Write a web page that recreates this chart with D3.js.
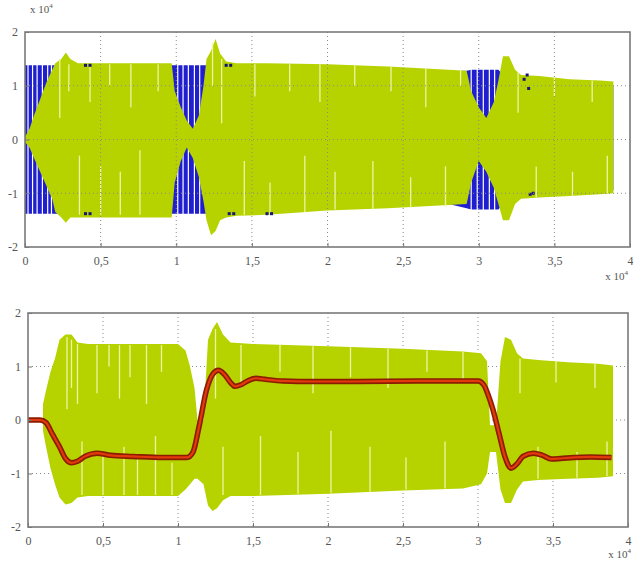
<!DOCTYPE html>
<html>
<head>
<meta charset="utf-8">
<script src="https://cdn.jsdelivr.net/npm/d3@7"></script>
<style>
  body { margin: 0; background: #fff; }
  svg text { font-family: "Liberation Serif", "DejaVu Serif", serif; fill: #555; }
</style>
</head>
<body>
<div id="chart"></div>
<script>
"use strict";

// ---- shared axis data ----
const X_TICKS = [0, 0.5, 1, 1.5, 2, 2.5, 3, 3.5, 4];
const X_TICK_LABELS = ["0", "0,5", "1", "1,5", "2", "2,5", "3", "3,5", "4"];
const Y_TICKS = [-2, -1, 0, 1, 2];
const Y_TICK_LABELS = ["-2", "-1", "0", "1", "2"];

// ---- top panel: envelopes of the two oscillating signals ----
const topX      = [0, 0.03, 0.06, 0.1, 0.14, 0.18, 0.2, 0.24, 0.27, 0.3, 0.35, 0.45, 0.6, 0.8, 0.97, 0.99, 1.03, 1.07, 1.11, 1.15, 1.18, 1.2, 1.23, 1.26, 1.29, 1.33, 1.4, 1.6, 2.0, 2.4, 2.8, 2.92, 2.95, 3.0, 3.05, 3.1, 3.13, 3.16, 3.2, 3.24, 3.28, 3.4, 3.6, 3.8, 3.89];
const topGreenHi = [0.05, 0.2, 0.45, 0.75, 1.05, 1.3, 1.42, 1.5, 1.62, 1.5, 1.42, 1.42, 1.42, 1.42, 1.42, 0.9, 0.6, 0.35, 0.2, 0.45, 1.0, 1.5, 1.65, 1.87, 1.6, 1.45, 1.42, 1.42, 1.4, 1.36, 1.3, 1.28, 0.9, 0.6, 0.4, 0.7, 1.1, 1.55, 1.55, 1.3, 1.2, 1.18, 1.12, 1.1, 1.08];
const topGreenLo = [-0.05, -0.15, -0.35, -0.6, -0.85, -1.1, -1.35, -1.45, -1.55, -1.45, -1.45, -1.45, -1.45, -1.45, -1.45, -0.8, -0.4, -0.15, -0.35, -0.7, -1.15, -1.5, -1.78, -1.7, -1.5, -1.45, -1.42, -1.4, -1.32, -1.28, -1.22, -1.2, -0.8, -0.4, -0.6, -0.9, -1.2, -1.5, -1.5, -1.2, -1.1, -1.08, -1.05, -1.02, -1.0];
const topBlueHi  = [1.38, 1.38, 1.38, 1.38, 1.38, 1.38, 1.38, 1.38, 1.38, 1.38, 1.38, 1.38, 1.38, 1.38, 1.38, 1.38, 1.38, 1.38, 1.38, 1.38, 1.38, 1.38, 1.38, 1.38, 1.38, 1.38, 1.38, 1.36, 1.33, 1.3, 1.27, 1.28, 1.3, 1.3, 1.3, 1.3, 1.3, 1.2, 1.1, 1.08, 1.08, 1.05, 1.03, 1.0, 1.0];
const topBlueLo  = [-1.38, -1.38, -1.38, -1.38, -1.38, -1.38, -1.38, -1.38, -1.38, -1.38, -1.38, -1.38, -1.38, -1.38, -1.38, -1.38, -1.38, -1.38, -1.38, -1.38, -1.38, -1.38, -1.38, -1.38, -1.38, -1.38, -1.38, -1.36, -1.3, -1.25, -1.2, -1.28, -1.3, -1.3, -1.3, -1.3, -1.3, -1.2, -1.05, -1.0, -1.0, -1.0, -0.98, -0.96, -0.95];

// white gaps between blue strokes, and dark blue spots peeking out
const topBlueGapX = [0.02, 0.05, 0.08, 0.115, 0.15, 0.175, 1.01, 1.045, 1.08, 1.12, 1.155, 2.95, 2.99, 3.03, 3.07, 3.105];
const topBlueDotX = [0.4, 0.43, 0.4, 0.43, 1.33, 1.36, 1.35, 1.38, 1.6, 1.63, 3.3, 3.32, 3.33, 3.34, 3.36];
const topBlueDotY = [1.38, 1.38, -1.38, -1.38, 1.38, 1.38, -1.38, -1.38, -1.38, -1.38, 1.12, 1.2, 0.95, -1.02, -1.0];

// pale streaks inside the green band
const topStreakX  = [0.23, 0.29, 0.36, 0.43, 0.5, 0.56, 0.63, 0.7, 0.76, 0.88, 1.24, 1.3, 1.45, 1.52, 1.62, 1.75, 1.85, 1.95, 2.05, 2.18, 2.3, 2.42, 2.55, 2.65, 2.78, 2.88, 3.26, 3.38, 3.5, 3.62, 3.75, 3.85];
const topStreakY1 = [1.5, 1.4, -0.3, 1.4, -0.5, 1.4, -0.6, 1.4, -0.2, 1.4, 1.8, 1.5, -0.4, 1.4, -0.8, 1.4, -0.3, 1.4, -0.6, 1.38, -0.4, 1.36, -0.7, 1.33, -0.5, 1.3, 1.25, -0.5, 1.15, -0.6, 1.1, -0.3];
const topStreakY2 = [0.4, 0.9, -1.4, 0.7, -1.4, 1.0, -1.4, 0.6, -1.4, 0.9, 1.0, 0.3, -1.4, 0.8, -1.4, 0.9, -1.35, 0.7, -1.3, 1.0, -1.3, 0.9, -1.28, 0.6, -1.25, 1.0, 0.5, -1.08, 0.8, -1.05, 0.7, -1.0];

// ---- bottom panel: one oscillating signal plus its smoothed value ----
const botX  = [0.1, 0.12, 0.15, 0.18, 0.21, 0.25, 0.29, 0.33, 0.4, 0.6, 0.8, 1.0, 1.05, 1.08, 1.11, 1.13, 1.17, 1.2, 1.23, 1.26, 1.3, 1.35, 1.5, 2.0, 2.5, 2.9, 3.02, 3.06, 3.08, 3.12, 3.15, 3.18, 3.22, 3.26, 3.3, 3.4, 3.6, 3.8, 3.9];
const botHi = [0.3, 0.55, 0.9, 1.15, 1.5, 1.6, 1.6, 1.45, 1.42, 1.42, 1.42, 1.42, 1.3, 1.0, 0.6, 0.0, 0.0, 1.5, 1.7, 1.83, 1.6, 1.45, 1.42, 1.38, 1.33, 1.28, 1.25, 1.1, -0.1, -0.1, 1.1, 1.55, 1.5, 1.25, 1.15, 1.12, 1.08, 1.05, 1.02];
const botLo = [-0.2, -0.5, -0.9, -1.2, -1.45, -1.58, -1.55, -1.45, -1.42, -1.42, -1.42, -1.42, -1.3, -1.2, -1.1, -1.1, -1.2, -1.6, -1.7, -1.65, -1.5, -1.42, -1.42, -1.38, -1.32, -1.28, -1.2, -1.0, -0.6, -0.6, -1.3, -1.55, -1.55, -1.3, -1.15, -1.12, -1.1, -1.08, -1.05];

const botStreakX  = [0.26, 0.29, 0.33, 0.36, 0.46, 0.5, 0.54, 0.61, 0.64, 0.68, 0.73, 0.79, 0.85, 0.89, 0.96, 1.25, 1.3, 1.42, 1.55, 1.68, 1.8, 1.9, 2.02, 2.15, 2.28, 2.4, 2.52, 2.66, 2.78, 2.9, 3.28, 3.4, 3.52, 3.66, 3.78, 3.86];
const botStreakY1 = [1.55, 1.5, 1.42, -0.4, 1.4, -0.6, 1.4, 1.4, -0.5, 1.4, -0.7, 1.4, -0.3, 1.4, -0.8, 1.7, -0.5, 1.4, -0.3, 1.4, -0.6, 1.38, -0.2, 1.36, -0.5, 1.33, -0.7, 1.3, -0.4, 1.28, 1.15, -0.5, 1.1, -0.6, 1.05, -0.4];
const botStreakY2 = [0.2, 0.6, 0.3, -1.4, 0.5, -1.4, 1.0, 0.4, -1.4, 0.8, -1.4, 0.3, -1.4, 0.9, -1.4, 0.4, -1.4, 0.6, -1.4, 0.9, -1.38, 0.5, -1.36, 0.8, -1.34, 0.6, -1.3, 0.9, -1.28, 0.7, 0.5, -1.1, 0.7, -1.08, 0.6, -1.05];

const redX = [0, 0.08, 0.12, 0.16, 0.21, 0.25, 0.29, 0.33, 0.38, 0.46, 0.55, 0.7, 0.9, 1.06, 1.1, 1.14, 1.19, 1.23, 1.27, 1.31, 1.35, 1.38, 1.42, 1.47, 1.52, 1.58, 1.7, 1.9, 2.2, 2.6, 3.0, 3.04, 3.07, 3.1, 3.14, 3.18, 3.22, 3.26, 3.3, 3.37, 3.43, 3.49, 3.55, 3.64, 3.75, 3.89];
const redY = [0.0, 0.0, -0.05, -0.25, -0.5, -0.72, -0.8, -0.77, -0.68, -0.62, -0.66, -0.68, -0.7, -0.7, -0.6, -0.13, 0.56, 0.85, 0.93, 0.85, 0.7, 0.63, 0.66, 0.74, 0.78, 0.76, 0.73, 0.72, 0.72, 0.73, 0.73, 0.65, 0.45, 0.19, -0.25, -0.69, -0.9, -0.82, -0.68, -0.62, -0.66, -0.73, -0.72, -0.7, -0.69, -0.7];

const GREEN = "#b6d300";
const BLUE = "#1f1fcf";
const STREAK = "#eef4a2";

function zip(xs, ...cols) {
    return xs.map((x, i) => [x, ...cols.map(c => c[i])]);
}

/*
 * Panel: box, grid, ticks and labels
 */
function Panel(svg, box, id) {
    this.x = d3.scaleLinear().domain([0, 4]).range([box.left, box.right]);
    this.y = d3.scaleLinear().domain([-2, 2]).range([box.bottom, box.top]);
    this.box = box;
    this.g = svg.append("g");
    svg.append("clipPath").attr("id", id + "-clip")
      .append("rect")
        .attr("x", box.left).attr("y", box.top)
        .attr("width", box.right - box.left).attr("height", box.bottom - box.top);
    this.marks = this.g.append("g").attr("clip-path", `url(#${id}-clip)`);
}

Panel.prototype.grid = function() {
    const g = this.marks.append("g")
        .attr("stroke", "#8a8a8a")
        .attr("stroke-width", 1)
        .attr("stroke-dasharray", "1,3");
    g.selectAll(".gx").data(X_TICKS.slice(1, -1)).join("line")
        .attr("x1", d => this.x(d)).attr("x2", d => this.x(d))
        .attr("y1", this.box.top).attr("y2", this.box.bottom);
    g.selectAll(".gy").data(Y_TICKS.slice(1, -1)).join("line")
        .attr("x1", this.box.left).attr("x2", this.box.right)
        .attr("y1", d => this.y(d)).attr("y2", d => this.y(d));
}

Panel.prototype.frame = function() {
    const xAxis = d3.axisBottom(this.x).tickValues(X_TICKS)
        .tickFormat((d, i) => X_TICK_LABELS[i]).tickSizeInner(-4).tickSizeOuter(0).tickPadding(9);
    const yAxis = d3.axisLeft(this.y).tickValues(Y_TICKS)
        .tickFormat((d, i) => Y_TICK_LABELS[i]).tickSizeInner(-4).tickSizeOuter(0).tickPadding(7);

    const gx = this.g.append("g")
        .attr("transform", `translate(0,${this.box.bottom})`)
        .call(xAxis);
    const gy = this.g.append("g")
        .attr("transform", `translate(${this.box.left},0)`)
        .call(yAxis);
    [gx, gy].forEach(a => {
        a.select(".domain").remove();
        a.selectAll("line").attr("stroke", "#777");
        a.selectAll("text").attr("font-size", 12).attr("fill", "#555")
            .attr("font-family", "Liberation Serif, serif");
    });

    this.g.append("rect")
        .attr("x", this.box.left).attr("y", this.box.top)
        .attr("width", this.box.right - this.box.left)
        .attr("height", this.box.bottom - this.box.top)
        .attr("fill", "none").attr("stroke", "#7a7a7a").attr("stroke-width", 1.6);
}

Panel.prototype.band = function(xs, hi, lo, color) {
    const area = d3.area()
        .x(d => this.x(d[0]))
        .y0(d => this.y(d[2]))
        .y1(d => this.y(d[1]));
    this.marks.append("path")
        .datum(zip(xs, hi, lo))
        .attr("d", area)
        .attr("fill", color);
}

Panel.prototype.streaks = function(xs, y1, y2, color, width) {
    this.marks.append("g").selectAll("line")
        .data(zip(xs, y1, y2)).join("line")
        .attr("x1", d => this.x(d[0])).attr("x2", d => this.x(d[0]))
        .attr("y1", d => this.y(d[1])).attr("y2", d => this.y(d[2]))
        .attr("stroke", color).attr("stroke-width", width);
}

Panel.prototype.exponent = function(x, y, anchor) {
    const t = this.g.append("text")
        .attr("x", x).attr("y", y)
        .attr("text-anchor", anchor)
        .attr("font-size", 11).attr("fill", "#555");
    t.append("tspan").text("x 10");
    t.append("tspan").attr("dy", -5).attr("font-size", 7).text("4");
}

const svg = d3.select("#chart")
  .append("svg")
    .attr("width", 633)
    .attr("height", 566);

// ---- top panel ----
const upper = new Panel(svg, { left: 25, right: 630, top: 32, bottom: 247 }, "upper");
upper.band(topX, topBlueHi, topBlueLo, BLUE);
upper.streaks(topBlueGapX, topBlueGapX.map(() => 1.4), topBlueGapX.map(() => -1.4), "#ffffff", 1.2);
upper.band(topX, topGreenHi, topGreenLo, GREEN);
upper.streaks(topStreakX, topStreakY1, topStreakY2, STREAK, 1.3);
upper.marks.append("g").selectAll("rect")
    .data(zip(topBlueDotX, topBlueDotY)).join("rect")
    .attr("x", d => upper.x(d[0]) - 1.5).attr("y", d => upper.y(d[1]) - 1.5)
    .attr("width", 3).attr("height", 3)
    .attr("fill", "#15157a");
upper.grid();
upper.frame();
upper.exponent(30, 13, "start");
upper.exponent(628, 280, "end");

// ---- bottom panel ----
const lower = new Panel(svg, { left: 28, right: 628, top: 313, bottom: 527 }, "lower");
lower.grid();
lower.band(botX, botHi, botLo, GREEN);
lower.streaks(botStreakX, botStreakY1, botStreakY2, STREAK, 1.3);

const redLine = d3.line()
    .x(d => lower.x(d[0]))
    .y(d => lower.y(d[1]))
    .curve(d3.curveMonotoneX);
lower.marks.append("path")
    .datum(zip(redX, redY))
    .attr("d", redLine)
    .attr("fill", "none")
    .attr("stroke", "#8a1c00")
    .attr("stroke-width", 5.5);
lower.marks.append("path")
    .datum(zip(redX, redY))
    .attr("d", redLine)
    .attr("fill", "none")
    .attr("stroke", "#e23a0c")
    .attr("stroke-width", 2.2);
lower.frame();
lower.exponent(631, 558, "end");
</script>
</body>
</html>
